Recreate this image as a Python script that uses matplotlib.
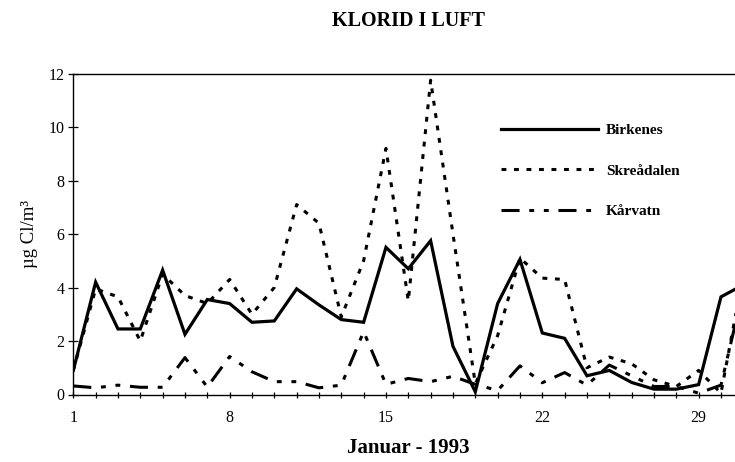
import matplotlib
matplotlib.use("Agg")
import matplotlib.pyplot as plt
from matplotlib.ticker import FixedLocator

plt.rcParams['font.family'] = ['Liberation Serif', 'DejaVu Serif']
plt.rcParams['lines.scale_dashes'] = False

days = list(range(1, 32))
birkenes = [0.9, 4.2, 2.45, 2.45, 4.65, 2.25, 3.55, 3.4, 2.7, 2.75, 3.95, 3.35, 2.8, 2.7,
            5.5, 4.7, 5.75, 1.8, 0.1, 3.4, 5.05, 2.3, 2.1, 0.7, 0.9, 0.45, 0.2, 0.2, 0.37,
            3.65, 4.1]
skreadalen = [0.9, 3.95, 3.65, 2.0, 4.5, 3.7, 3.4, 4.3, 3.0, 4.0, 7.1, 6.4, 2.9, 5.0,
              9.2, 3.5, 11.75, 6.0, 0.4, 2.2, 5.1, 4.35, 4.3, 1.0, 1.4, 1.15, 0.55, 0.3,
              0.9, 0.05, 4.5]
karvatn = [0.32, 0.25, 0.35, 0.27, 0.27, 1.38, 0.28, 1.42, 0.85, 0.48, 0.48, 0.25, 0.35,
           2.35, 0.38, 0.6, 0.48, 0.68, 0.38, 0.15, 1.07, 0.44, 0.82, 0.35, 1.1, 0.7, 0.3,
           0.3, 0.05, 0.35, 3.9]
xtick_labels = ['1', '8', '15', '22', '29']
xtick_pos = [1, 8, 15, 22, 29]
series_names = ['Birkenes', 'Skreådalen', 'Kårvatn']

W, H = 735, 462
fig = plt.figure(figsize=(W / 100, H / 100), dpi=100)
left, right, top, bottom = 73.3, 743.3, 73.5, 394.5
ax = fig.add_axes([left / W, 1 - bottom / H, (right - left) / W, (bottom - top) / H])

ax.plot(days, birkenes, color='black', lw=2.3, label=series_names[0], solid_joinstyle='miter')
ax.plot(days, skreadalen, color='black', lw=2.2, linestyle=(0, (3.5, 5.5)), label=series_names[1])
ax.plot(days, karvatn, color='black', lw=2.2,
        linestyle=(0, (13, 7, 3.5, 7, 3.5, 7)), label=series_names[2])

ax.set_xlim(1, 31)
ax.set_ylim(0, 12)
ax.xaxis.set_major_locator(FixedLocator(xtick_pos))
ax.set_xticklabels(xtick_labels)
ax.xaxis.set_minor_locator(FixedLocator(days))
ax.set_yticks([0, 2, 4, 6, 8, 10, 12])
ax.tick_params(axis='x', which='both', direction='inout', length=4.2, width=0.9,
               labelsize=11.5, pad=9)
ax.tick_params(axis='y', which='major', direction='inout', length=6.5, width=0.9,
               labelsize=11.5, pad=3)
for s in ax.spines.values():
    s.set_linewidth(1.0)

ax.set_ylabel('µg Cl/m³', fontsize=13.5, labelpad=8)
ax.set_xlabel('Januar - 1993', fontsize=15, fontweight='bold', labelpad=8.5)
ax.set_title('KLORID I LUFT', fontsize=14.5, fontweight='bold', pad=34)

leg = ax.legend(loc='upper left', bbox_to_anchor=(0.639, 0.844), frameon=False,
                handlelength=6.3, handletextpad=0.55, labelspacing=1.75,
                borderpad=0, borderaxespad=0,
                prop={'family': 'Liberation Serif', 'weight': 'bold', 'size': 11})

fig.savefig('out.png', dpi=100)
